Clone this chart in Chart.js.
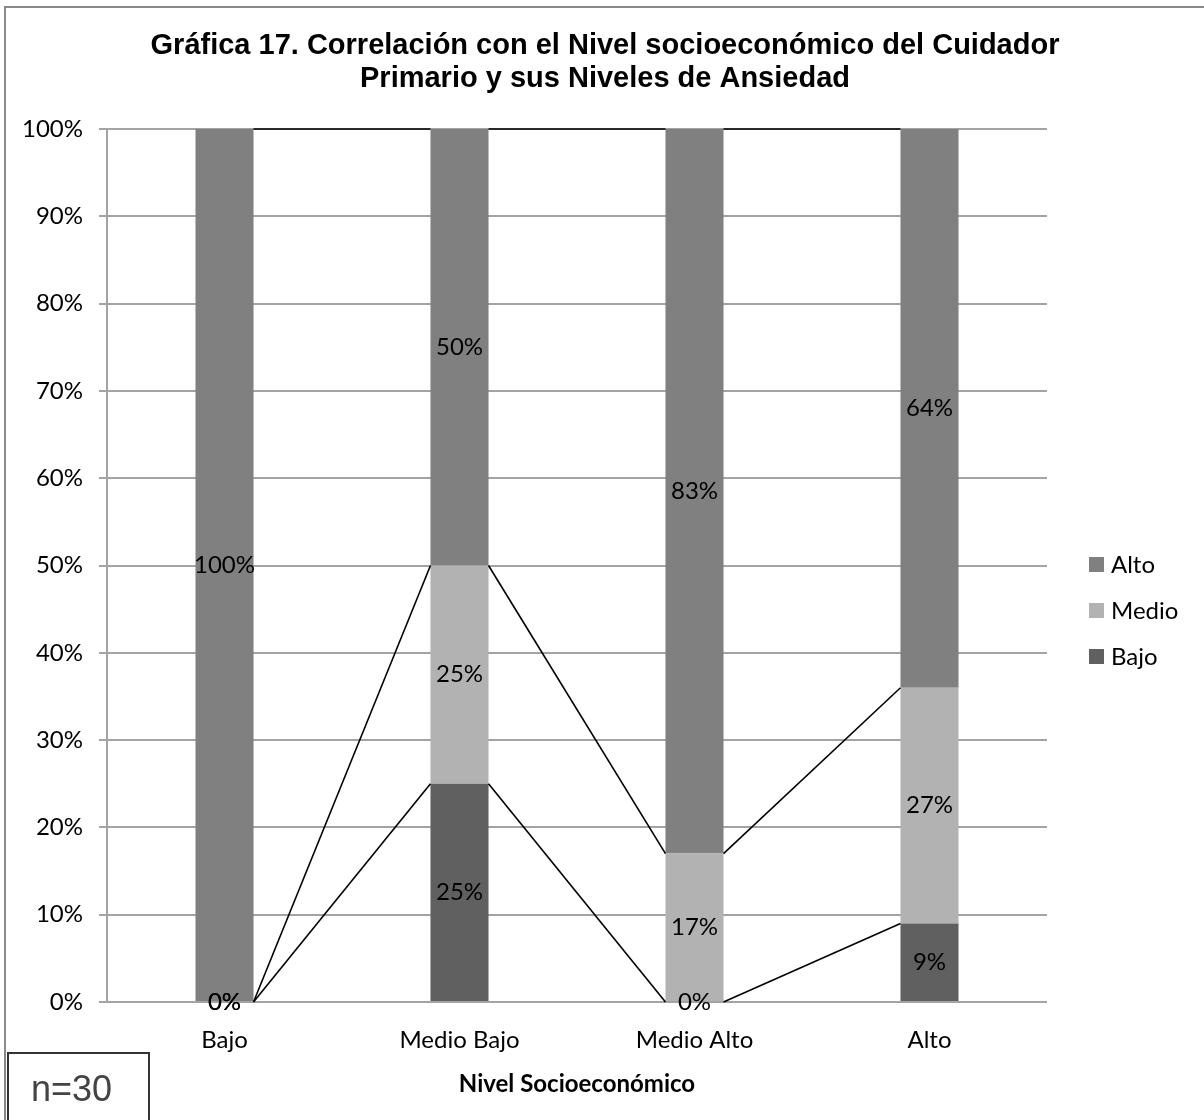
<!DOCTYPE html>
<html>
<head>
<meta charset="utf-8">
<script src="https://cdn.jsdelivr.net/npm/chart.js@4.4.1/dist/chart.umd.min.js"></script>
<style>
  body { margin: 0; background: #fff; }
  #wrap { position: relative; width: 1204px; height: 1120px; overflow: hidden; }
  #nbox {
    position: absolute; left: 7px; top: 1052px; width: 143px; height: 90px;
    border: 2px solid #333; font-family: "Liberation Sans", Arial, sans-serif;
    font-size: 36px; color: #444; padding: 14px 0 0 22px; box-sizing: border-box;
  }
</style>
</head>
<body>
<div id="wrap">
  <canvas id="chart" width="1204" height="1120"></canvas>
  <div id="nbox">n=30</div>
</div>
<script>
"use strict";
// datos
const categorias = ["Bajo", "Medio Bajo", "Medio Alto", "Alto"];
const serieBajo  = [0, 25, 0, 9];
const serieMedio = [0, 25, 17, 27];
const serieAlto  = [100, 50, 83, 64];
const ticksY = [0, 10, 20, 30, 40, 50, 60, 70, 80, 90, 100];
const tituloGrafica = ["Gráfica 17. Correlación con el Nivel socioeconómico del Cuidador", "Primario y sus Niveles de Ansiedad"];
const tituloX = "Nivel Socioeconómico";

Chart.defaults.font.family = "Lato, 'Open Sans', sans-serif";
Chart.defaults.color = "#000";

// marco exterior y titulo
const marco = {
  id: 'marco',
  beforeDraw(chart) {
    const ctx = chart.ctx;
    ctx.save();
    ctx.strokeStyle = '#8a8a8a';
    ctx.lineWidth = 2;
    ctx.strokeRect(5, 7, 1400, 1400);
    ctx.fillStyle = '#000';
    ctx.font = "bold 29px 'Liberation Sans', Arial, sans-serif";
    ctx.textAlign = 'center';
    ctx.textBaseline = 'middle';
    tituloGrafica.forEach((t, i) => ctx.fillText(t, 605, 46 + i * 33));
    ctx.restore();
  }
};

// lineas de serie entre barras (como en Excel)
const lineasSerie = {
  id: 'lineasSerie',
  afterDatasetsDraw(chart) {
    const ctx = chart.ctx;
    ctx.save();
    ctx.strokeStyle = '#000';
    ctx.lineWidth = 1.6;
    chart.data.datasets.forEach((ds, i) => {
      const bars = chart.getDatasetMeta(i).data;
      for (let j = 0; j < bars.length - 1; j++) {
        const a = bars[j], b = bars[j + 1];
        ctx.beginPath();
        ctx.moveTo(a.x + a.width / 2, a.y);
        ctx.lineTo(b.x - b.width / 2, b.y);
        ctx.stroke();
      }
    });
    ctx.restore();
  }
};

// etiquetas de datos y leyenda
const etiquetas = {
  id: 'etiquetas',
  afterDraw(chart) {
    const ctx = chart.ctx;
    ctx.save();
    ctx.font = "24px Lato, 'Open Sans', sans-serif";
    ctx.fillStyle = '#000';
    ctx.textAlign = 'center';
    ctx.textBaseline = 'middle';
    chart.data.datasets.forEach((ds, i) => {
      chart.getDatasetMeta(i).data.forEach((el, j) => {
        const y = (el.y + el.base) / 2;
        ctx.fillText(ds.data[j] + '%', el.x, y);
      });
    });
    // leyenda (orden inverso)
    const ys = [565, 611, 657];
    const dsets = chart.data.datasets.slice().reverse();
    ctx.textAlign = 'left';
    dsets.forEach((ds, k) => {
      ctx.fillStyle = ds.backgroundColor;
      ctx.fillRect(1089, ys[k] - 8, 15, 15);
      ctx.fillStyle = '#000';
      ctx.fillText(ds.label, 1111, ys[k]);
    });
    ctx.restore();
  }
};

new Chart(document.getElementById('chart'), {
  type: 'bar',
  data: {
    labels: categorias,
    datasets: [
      { label: 'Bajo', data: serieBajo, backgroundColor: '#606060' },
      { label: 'Medio', data: serieMedio, backgroundColor: '#b2b2b2' },
      { label: 'Alto', data: serieAlto, backgroundColor: '#808080' }
    ]
  },
  options: {
    responsive: false,
    animation: false,
    layout: { padding: { left: 7, right: 157, top: 129, bottom: 18 } },
    datasets: { bar: { barPercentage: 0.247, categoryPercentage: 1, borderWidth: 0 } },
    plugins: {
      legend: { display: false },
      tooltip: { enabled: false },
      title: { display: false }
    },
    scales: {
      x: {
        stacked: true,
        grid: { display: false },
        border: { display: false },
        ticks: { font: { size: 24 }, padding: 16 },
        title: { display: true, text: tituloX, font: { size: 24, weight: 'bold' }, padding: { top: 6, bottom: 3 } },
        afterFit(s) { s.height = 100; }
      },
      y: {
        stacked: true,
        min: 0,
        max: 100,
        afterBuildTicks(s) { s.ticks = ticksY.map(v => ({ value: v })); },
        ticks: { font: { size: 24 }, padding: 16, callback: v => v + '%' },
        grid: { color: '#a3a3a3', lineWidth: 2, tickLength: 8 },
        border: { display: true, color: '#a3a3a3', width: 2 },
        afterFit(s) { s.width = 100; }
      }
    }
  },
  plugins: [marco, lineasSerie, etiquetas]
});
</script>
</body>
</html>
